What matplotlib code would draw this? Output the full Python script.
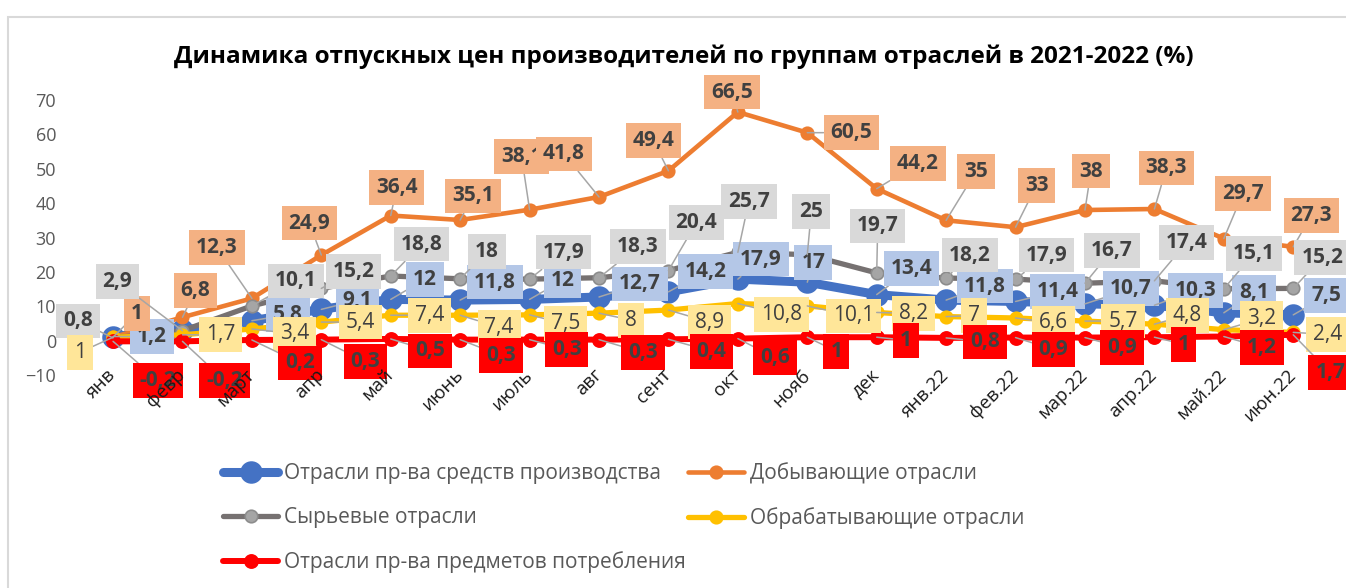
import matplotlib
matplotlib.use("Agg")
import matplotlib.pyplot as plt
from matplotlib.patches import Rectangle
from matplotlib.transforms import ScaledTranslation

plt.rcParams['font.family'] = ['Open Sans', 'DejaVu Sans']

# --- data ---
months = ['янв', 'февр', 'март', 'апр', 'май', 'июнь', 'июль', 'авг', 'сент',
          'окт', 'нояб', 'дек', 'янв.22', 'фев.22', 'мар.22', 'апр.22',
          'май.22', 'июн.22']
means_prod = [1.2, 3.0, 5.8, 9.1, 12, 11.8, 12, 12.7, 14.2, 17.9, 17, 13.4,
              11.8, 11.4, 10.7, 10.3, 8.1, 7.5]
mining = [1, 6.8, 12.3, 24.9, 36.4, 35.1, 38.1, 41.8, 49.4, 66.5, 60.5, 44.2,
          35, 33, 38, 38.3, 29.7, 27.3]
raw = [0.8, 2.9, 10.1, 15.2, 18.8, 18, 17.9, 18.3, 20.4, 25.7, 25, 19.7,
       18.2, 17.9, 16.7, 17.4, 15.1, 15.2]
manuf = [1, 1.7, 3.4, 5.4, 7.4, 7.4, 7.5, 8, 8.9, 10.8, 10.1, 8.2, 7, 6.6,
         5.7, 4.8, 3.2, 2.4]
consumer = [-0.2, -0.2, 0.2, 0.3, 0.5, 0.3, 0.3, 0.3, 0.4, 0.6, 1, 1, 0.8,
            0.9, 0.9, 1, 1.2, 1.7]

names = ['Отрасли пр-ва средств производства', 'Добывающие отрасли',
         'Сырьевые отрасли', 'Обрабатывающие отрасли',
         'Отрасли пр-ва предметов потребления']

# label offsets in pixels (dx right, dy down), as the labels were dragged in Excel
blue_off = [(39, 0), None, (36, -6), (36, -9), (34, -20), (35, -18), (33, -19),
            (41, -13), (37, -20), (23, -20), (6, -20), (35, -26), (39, -14),
            (42, -10), (46, -15), (41, -15), (30, -20), (33, -19)]
orange_off = [(24, -24), (13, -27), (-35, -51), (-12, -32), (6, -28), (13, -24),
              (-8, -53), (-35, -43), (-15, -30), (-6, -20), (44, 0), (41, -25),
              (30, -49), (21, -42), (6, -39), (12, -41), (19, -45), (18, -31)]
gray_off = [(-35, -17), (-65, -49), (44, -25), (32, -17), (31, -32), (27, -27),
            (34, -27), (39, -31), (28, -48), (11, -51), (4, -43), (1, -47),
            (24, -23), (31, -24), (27, -33), (32, -38), (30, -35), (29, -31)]
yellow_off = [(-33, 15), (38, 0), (43, 5), (39, 0), (39, 0), (39, 12), (36, 9),
              (32, 7), (41, 12), (44, 11), (46, 10), (37, 1), (28, -1), (38, 5),
              (38, 0), (33, -9), (38, -11), (34, 2)]
red_off = [(45, 39), (42, 39), (48, 23), (44, 22), (39, 12), (41, 16), (37, 10),
           (44, 13), (43, 12), (37, 19), (29, 14), (29, 3), (39, 4), (38, 12),
           (37, 10), (29, 7), (38, 11), (37, 38)]

fig = plt.figure(figsize=(13.46, 5.88), dpi=100)
ax = fig.add_axes([0.0582, 0.3622, 0.9284, 0.4677])

x = list(range(len(months)))

# series: values, line colour, marker face, marker edge, lw, ms, label fill, weight, offsets
series = [
    (means_prod, '#4472C4', '#4472C4', '#4472C4', 6.5, 15, '#B4C7E7', 'bold', blue_off),
    (mining, '#ED7D31', '#ED7D31', '#ED7D31', 3.3, 9, '#F4B183', 'bold', orange_off),
    (raw, '#767171', '#A5A5A5', '#8C8C8C', 3.8, 9, '#D9D9D9', 'bold', gray_off),
    (manuf, '#FFC000', '#FFC000', '#FFC000', 3.8, 9, '#FFE699', 'normal', yellow_off),
    (consumer, '#FF0000', '#FF0000', '#FF0000', 4.3, 9.5, '#FF0000', 'bold', red_off),
]

handles = []
for k, (vals, col, mfc, mec, lw, ms, fill, weight, offs) in enumerate(series):
    ln, = ax.plot(x, vals, color=col, lw=lw, marker='o', ms=ms, mfc=mfc,
                  mec=mec, mew=1.2, solid_capstyle='round', zorder=2 + k * 0.1,
                  label=names[k])
    handles.append(ln)

# data labels above all lines, later series on top
for k, (vals, col, mfc, mec, lw, ms, fill, weight, offs) in enumerate(series):
    for i, v in enumerate(vals):
        if offs[i] is None:
            continue
        dx, dy = offs[i]
        txt = f"{v:g}".replace('.', ',')
        ax.annotate(txt, xy=(i, v), xytext=(dx, -dy), textcoords='offset pixels',
                    ha='center', va='center', fontsize=15, fontweight=weight,
                    color='#404040', zorder=5 + k * 0.1,
                    bbox=dict(boxstyle='square,pad=0.33', fc=fill, ec='none'),
                    arrowprops=dict(arrowstyle='-', color='#A6A6A6', lw=1.1,
                                    shrinkA=0, shrinkB=0))

ax.set_xlim(-0.5, len(months) - 0.5)
ax.set_ylim(-10, 70)
ax.set_yticks(range(-10, 71, 10))
ax.set_xticks(x)
ax.set_xticklabels(months, rotation=45, ha='right', va='center',
                   rotation_mode='anchor', fontsize=13.5, color='#1a1a1a')
for lab in ax.get_xticklabels():
    lab.set_transform(lab.get_transform() + ScaledTranslation(0.02, 0.0, fig.dpi_scale_trans))
ax.tick_params(axis='x', length=0, pad=-2)
ax.tick_params(axis='y', length=0, pad=16, labelsize=13, labelcolor='#595959')
for s in ax.spines.values():
    s.set_visible(False)
ax.xaxis.set_zorder(10)

fig.text(0.508, 0.903, 'Динамика отпускных цен производителей по группам отраслей в 2021-2022 (%)',
         ha='center', va='center', fontsize=17.5, fontweight='bold', color='black')

order = [0, 2, 4, 1, 3]
leg = ax.legend([handles[i] for i in order], [names[i] for i in order], ncol=2,
                loc='upper left', bbox_to_anchor=(0.1657, 0.2134),
                bbox_transform=fig.transFigure, frameon=False, fontsize=15,
                handlelength=2.65, handletextpad=0.3, labelspacing=1.1,
                columnspacing=0.1, borderpad=0, borderaxespad=0)
for t in leg.get_texts():
    t.set_color('#595959')

# chart area border (only top and left are inside the picture)
fig.add_artist(Rectangle((7.5 / 1346, -0.1), 1.2, 1.071, transform=fig.transFigure,
                         fill=False, ec='#D9D9D9', lw=1.5))

fig.savefig('out.png', dpi=100)
